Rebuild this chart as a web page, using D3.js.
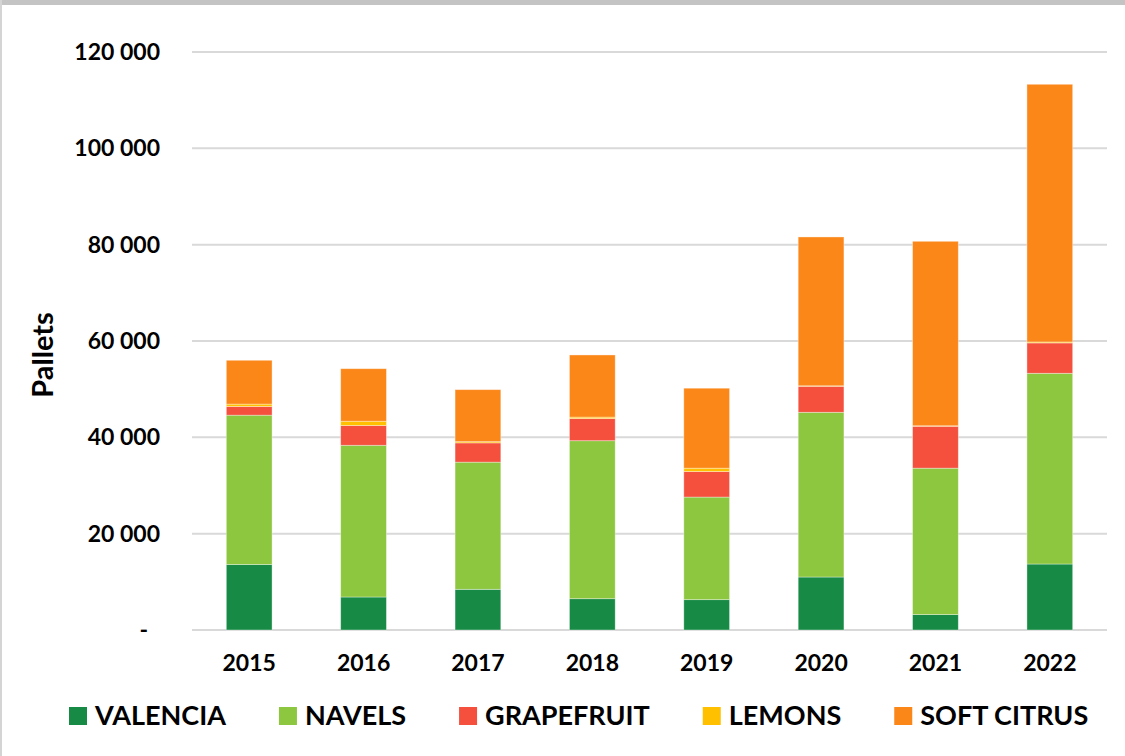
<!DOCTYPE html>
<meta charset="utf-8">
<script src="https://d3js.org/d3.v7.min.js"></script>
<style>
  body { margin: 0; background: #fff; }
  svg { display: block; font-family: Lato, "Liberation Sans", sans-serif; font-weight: bold; }
  .tick text { fill: #000; }
</style>
<div id="chart"></div>
<script>

var years = ["2015", "2016", "2017", "2018", "2019", "2020", "2021", "2022"];
var seriesNames = ["VALENCIA", "NAVELS", "GRAPEFRUIT", "LEMONS", "SOFT CITRUS"];
var seriesColors = ["#178b45", "#8dc63f", "#f4503d", "#ffc000", "#fb8719"];

// pallets per year
var valencia   = [13600,  6850,  8450,  6500,  6300, 11000,  3200, 13700];
var navels     = [31000, 31500, 26400, 32800, 21300, 34200, 30400, 39600];
var grapefruit = [ 1800,  4100,  4000,  4600,  5300,  5400,  8700,  6300];
var lemons     = [  500,   900,   250,   300,   700,   100,   100,   200];
var softCitrus = [ 9100, 10900, 10800, 12900, 16600, 30900, 38300, 53500];

var yTicks = [0, 20000, 40000, 60000, 80000, 100000, 120000];
var yTickLabels = ["-", "20 000", "40 000", "60 000", "80 000", "100 000", "120 000"];

var W = 1125, H = 756;
var margin = {top: 52, right: 18, bottom: 126, left: 192};
var width = W - margin.left - margin.right,
    height = H - margin.top - margin.bottom;

var rows = years.map(function(y, i) {
  return {year: y, "VALENCIA": valencia[i], "NAVELS": navels[i], "GRAPEFRUIT": grapefruit[i],
          "LEMONS": lemons[i], "SOFT CITRUS": softCitrus[i]};
});

var svg = d3.select("#chart").append("svg")
  .attr("width", W)
  .attr("height", H);

// frame edges of the screenshot
svg.append("rect").attr("x", 0).attr("y", 0).attr("width", W).attr("height", 5).attr("fill", "#c4c4c4");
svg.append("rect").attr("x", 0).attr("y", 0).attr("width", 2).attr("height", H).attr("fill", "#d4d4d4");

var g = svg.append("g")
  .attr("transform", "translate(" + margin.left + "," + margin.top + ")");

var x = d3.scaleBand()
  .domain(years)
  .range([0, width])
  .paddingInner(0.6)
  .paddingOuter(0.3);

var y = d3.scaleLinear()
  .domain([0, 120000])
  .range([height, 0]);

// gridlines
g.append("g")
  .selectAll("line")
  .data(yTicks)
  .enter().append("line")
    .attr("x1", 0)
    .attr("x2", width)
    .attr("y1", function(d) { return y(d); })
    .attr("y2", function(d) { return y(d); })
    .attr("stroke", "#d9d9d9")
    .attr("stroke-width", 2);

var yAxis = g.append("g")
  .call(d3.axisLeft(y).tickValues(yTicks).tickSize(0).tickPadding(32)
    .tickFormat(function(d, i) { return yTickLabels[i]; }));
yAxis.select(".domain").remove();
yAxis.selectAll("text")
  .style("font-size", "23px")
  .style("font-weight", "bold")
  .style("font-family", "Lato, sans-serif")
  .attr("dx", function(d) { return d === 0 ? -12 : 0; });

var stack = d3.stack().keys(seriesNames);
var layers = stack(rows);

g.selectAll(".layer")
  .data(layers)
  .enter().append("g")
    .attr("class", "layer")
    .attr("fill", function(d, i) { return seriesColors[i]; })
  .selectAll("rect")
  .data(function(d) { return d; })
  .enter().append("rect")
    .attr("x", function(d) { return x(d.data.year); })
    .attr("y", function(d) { return y(d[1]); })
    .attr("width", x.bandwidth())
    .attr("height", function(d) { return y(d[0]) - y(d[1]); })
    .attr("stroke", "#ffffff")
    .attr("stroke-opacity", 0.45)
    .attr("stroke-width", 0.8);

var xAxis = g.append("g")
  .attr("transform", "translate(0," + height + ")")
  .call(d3.axisBottom(x).tickSize(0).tickPadding(25));
xAxis.select(".domain").remove();
xAxis.selectAll("text")
  .style("font-size", "23px")
  .style("font-weight", "bold")
  .style("font-family", "Lato, sans-serif");

svg.append("text")
  .attr("transform", "translate(53,355) rotate(-90)")
  .attr("text-anchor", "middle")
  .style("font-size", "29px")
  .text("Pallets");

// legend
var legend = svg.append("g").attr("transform", "translate(69,725)");
var lx = 0;
seriesNames.forEach(function(name, i) {
  legend.append("rect")
    .attr("x", lx).attr("y", -18)
    .attr("width", 18).attr("height", 18)
    .attr("fill", seriesColors[i]);
  var t = legend.append("text")
    .attr("x", lx + 26).attr("y", 0)
    .style("font-size", "27px")
    .text(name);
  lx += 26 + t.node().getComputedTextLength() + 53;
});

</script>
